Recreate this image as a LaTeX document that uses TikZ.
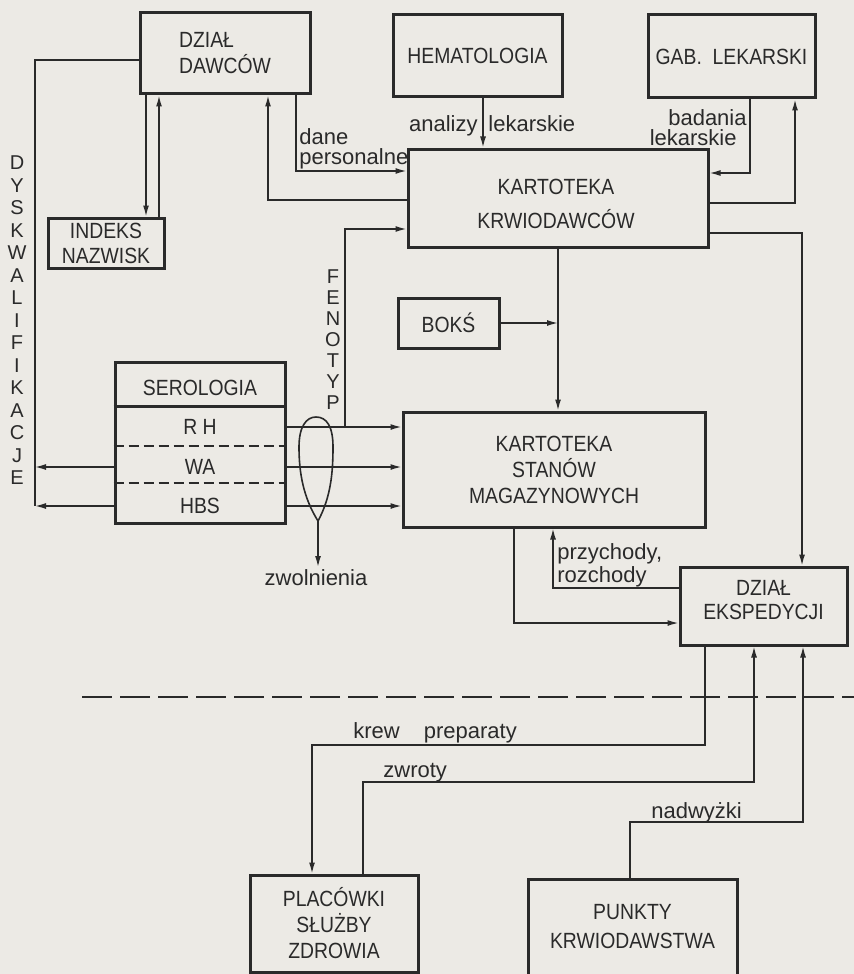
\documentclass[tikz,border=0pt]{standalone}
\usepackage{fontspec}
\setmainfont{Liberation Sans}
\newfontfamily\capsfont[FakeStretch=0.88]{Liberation Sans}
\usetikzlibrary{arrows.meta}
\definecolor{paper}{RGB}{236,234,229}
\definecolor{ink}{RGB}{42,42,42}

\begin{document}
\begin{tikzpicture}[
  x=0.5pt,y=-0.5pt,
  box/.style={draw=ink,line width=1.5pt,inner sep=0pt,align=center,text=ink,
    font=\capsfont\fontsize{11pt}{13pt}\selectfont},
  txt/.style={inner sep=0pt,align=center,text=ink,font=\capsfont\fontsize{11pt}{13pt}\selectfont},
  lab/.style={inner sep=1pt,text=ink,font=\fontsize{11pt}{10pt}\selectfont},
  vert/.style={inner sep=0pt,align=center,text=ink,font=\fontsize{10pt}{#1}\selectfont},
  wire/.style={draw=ink,line width=0.7pt},
  arr/.style={wire,-{Latex[length=5.5pt,width=3pt]}},
  cutline/.style={draw=ink,line width=0.8pt,dash pattern=on 15pt off 4pt}
]
  \path[fill=paper,use as bounding box] (0,0) rectangle (854,974);
  \clip (0,0) rectangle (854,974);

  \node[box,minimum width=85pt,minimum height=40.5pt,align=left] (dawcy) at (225,53.5) {DZIAŁ\\DAWCÓW};
  \node[box,minimum width=58pt,minimum height=25pt,font=\capsfont\fontsize{11pt}{12.5pt}\selectfont] (indeks) at (106,243) {INDEKS\\NAZWISK};
  \node[box,minimum width=84.5pt,minimum height=41pt] (hemat) at (477.5,56) {HEMATOLOGIA};
  \node[box,minimum width=83.5pt,minimum height=41.5pt] (gab) at (731.5,56.5) {GAB.\ \ LEKARSKI};
  \node[box,minimum width=150pt,minimum height=49pt] (krwio) at (558,198) {};
  \node[txt,font=\capsfont\fontsize{11pt}{17pt}\selectfont] (krwiot) at (556,204) {KARTOTEKA\\KRWIODAWCÓW};
  \node[box,minimum width=50.5pt,minimum height=25pt] (boks) at (448.5,323) {BOKŚ};
  \node[box,minimum width=151pt,minimum height=57.5pt] (stany) at (554,469.5) {KARTOTEKA\\STANÓW\\MAGAZYNOWYCH};
  \node[box,minimum width=83.5pt,minimum height=39pt] (eksp) at (763.5,606) {};
  \node[txt,font=\capsfont\fontsize{11pt}{12pt}\selectfont] (ekspt) at (763.5,600) {DZIAŁ\\EKSPEDYCJI};
  \node[box,minimum width=85pt,minimum height=80.5pt] (sero) at (200,442.5) {};
  \node[box,minimum width=84pt,minimum height=48.5pt] (placowki) at (334,923.5) {PLACÓWKI\\SŁUŻBY\\ZDROWIA};
  \node[box,minimum width=104.5pt,minimum height=48pt,font=\capsfont\fontsize{11pt}{14.5pt}\selectfont] (punkty) at (632.5,927) {PUNKTY\\KRWIODAWSTWA};

  \node[txt] (serot) at (200,388) {SEROLOGIA};
  \node[txt] (rh) at (200,427) {R\ H};
  \node[txt] (wa) at (200,467) {WA};
  \node[txt] (hbs) at (200,506) {HBS};
  \draw[ink,line width=1.5pt] (sero.west |- 0,406) -- (sero.east |- 0,406);
  \foreach \yy in {446,483}
    \draw[ink,line width=0.9pt,dash pattern=on 5pt off 2.5pt] (sero.west |- 0,\yy) -- (sero.east |- 0,\yy);

  \node[vert=11.25pt] (dysk) at (17,320.5) {D\\Y\\S\\K\\W\\A\\L\\I\\F\\I\\K\\A\\C\\J\\E};
  \node[vert=10.5pt] (feno) at (333,340) {F\\E\\N\\O\\T\\Y\\P};

  \coordinate (dk) at (35,60);
  \draw[wire] (dawcy.west |- dk) -- (dk) -- (dk |- hbs);
  \foreach \r in {wa,hbs}
    \draw[arr] (sero.west |- \r) -- (dk |- \r);

  \coordinate (i1) at (146,0);
  \coordinate (i2) at (159,0);
  \draw[arr] (i1 |- dawcy.south) -- (i1 |- indeks.north);
  \draw[arr] (i2 |- indeks.north) -- (i2 |- dawcy.south);

  \coordinate (c1) at (296,171);
  \draw[arr] (c1 |- dawcy.south) -- (c1) -- (c1 -| krwio.west);
  \node[lab,anchor=south west,align=left] (dane) at (297,171) {dane\\personalne};
  \coordinate (c2) at (268,200);
  \draw[arr] (c2 -| krwio.west) -- (c2) -- (c2 |- dawcy.south);

  \coordinate (fen) at (345,427);
  \coordinate (c3) at (345,229);
  \draw[arr] (fen) -- (c3) -- (c3 -| krwio.west);
  \foreach \r in {rh,wa,hbs}
    \draw[arr] (sero.east |- \r) -- (stany.west |- \r);

  \draw[ink,line width=0.8pt] (318,521) .. controls (303,497) and (299,472) .. (299,447)
    .. controls (299,427) and (306,417) .. (316,417) .. controls (327,417) and (333,427) .. (333,447)
    .. controls (333,472) and (331,497) .. (318,521);
  \coordinate (tip) at (318,521);
  \node[lab,anchor=north] (zwol) at (316,567) {zwolnienia};
  \draw[arr] (tip) -- (tip |- zwol.north);

  \coordinate (c4) at (483,0);
  \draw[arr] (c4 |- hemat.south) -- (c4 |- krwio.north);
  \node[lab,anchor=base east] (anal) at (480,132) {analizy};
  \node[lab,anchor=base west] (lekar) at (486,132) {lekarskie};

  \coordinate (c5) at (750,173);
  \draw[arr] (c5 |- gab.south) -- (c5) -- (c5 -| krwio.east);
  \node[lab,anchor=south east,align=right] (bad) at (749,148) {badania\\lekarskie\rule{5pt}{0pt}};
  \coordinate (c6) at (795,203);
  \draw[arr] (c6 -| krwio.east) -- (c6) -- (c6 |- gab.south);
  \coordinate (c7) at (802,233);
  \draw[arr] (c7 -| krwio.east) -- (c7) -- (c7 |- eksp.north);

  \draw[arr] (krwio.south) -- (krwio.south |- stany.north);
  \draw[arr] (boks.east) -- (boks.east -| krwio.south);

  \coordinate (c8) at (553,588);
  \draw[arr] (c8 -| eksp.west) -- (c8) -- (c8 |- stany.south);
  \node[lab,anchor=south west,align=left,font=\fontsize{11pt}{8.5pt}\selectfont] (przych) at (555,589) {przychody,\\rozchody};
  \coordinate (c9) at (514,623);
  \draw[arr] (c9 |- stany.south) -- (c9) -- (c9 -| eksp.west);

  \draw[cutline] (82,697) -- (854,697);

  \coordinate (c10) at (705,745);
  \coordinate (c11) at (312,745);
  \draw[arr] (c10 |- eksp.south) -- (c10) -- (c11) -- (c11 |- placowki.north);
  \node[lab,anchor=base west] (krew) at (351,738) {krew\hspace{12pt}preparaty};
  \coordinate (c12) at (363,782);
  \coordinate (c13) at (754,782);
  \draw[arr] (c12 |- placowki.north) -- (c12) -- (c13) -- (c13 |- eksp.south);
  \node[lab,anchor=base west] (zwroty) at (381,777) {zwroty};
  \coordinate (c14) at (630,822);
  \coordinate (c15) at (803,822);
  \draw[arr] (c14 |- punkty.north) -- (c14) -- (c15) -- (c15 |- eksp.south);
  \node[lab,anchor=base west] (nadw) at (649,818) {nadwyżki};
\end{tikzpicture}
\end{document}
